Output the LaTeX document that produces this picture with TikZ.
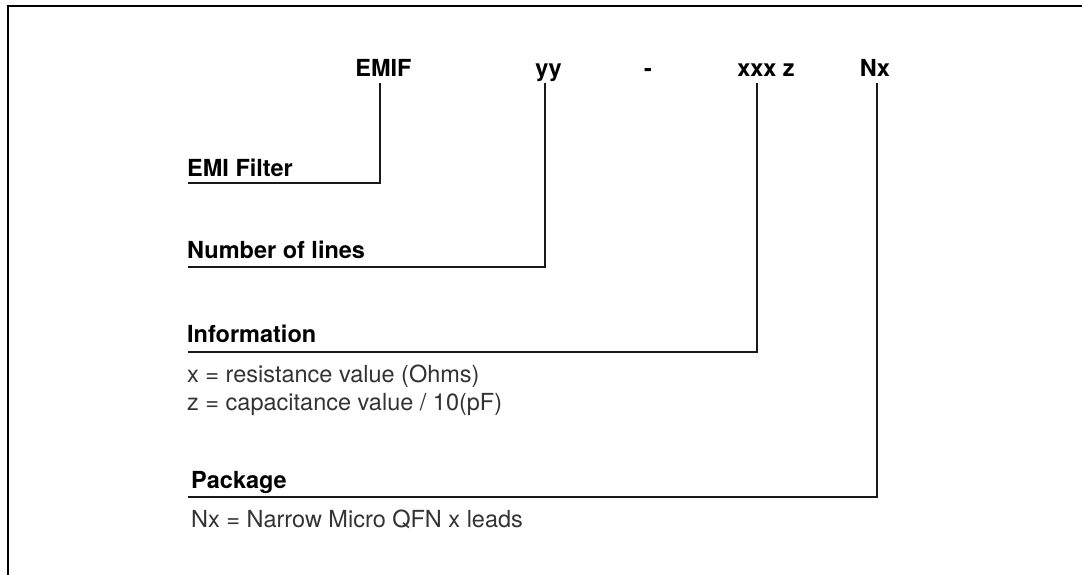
\documentclass[tikz,border=0pt]{standalone}
\usepackage{fontspec}
\setmainfont{TeX Gyre Heros}

\begin{document}
\begin{tikzpicture}[x=1pt,y=-1pt,
                    code/.style={font=\fontsize{23.5}{28}\selectfont\bfseries,inner sep=0pt,text depth=6pt,anchor=base},
                    field/.style={font=\fontsize{23.5}{28}\selectfont\bfseries,inner sep=0pt,anchor=base west},
                    note/.style={font=\fontsize{23.5}{28}\selectfont,text=black!80,inner sep=0pt,anchor=base west},
                    lead/.style={draw=black!90,line width=1.2pt}
]
\clip (0,0) rectangle (1082,575);
\draw[line width=2pt] (8,600) -- (8,6) -- (1100,6);

\node [code] at (383.5,77) (emif) {EMIF};
\node [code] at (548.5,77) (yy) {yy};
\node [code] at (648,77) (dash) {-};
\node [code] at (766,77) (xxxz) {xxx z};
\node [code] at (875,77) (nx) {Nx};

\node [field] at (187,176) (filter) {EMI Filter};
\node [field] at (187,258) (lines) {Number of lines};
\node [field] at (187,342) (info) {Information};
\node [note] at (187,382) (resist) {x = resistance value (Ohms)};
\node [note] at (187,410) (capac) {z = capacitance value / 10(pF)};
\node [field] at (191,488) (pkg) {Package};
\node [note] at (191,527) (leads) {Nx = Narrow Micro QFN x leads};

\coordinate (filterend) at (188,183);
\coordinate (linesend) at (188,267);
\coordinate (infoend) at (188,352);
\coordinate (pkgend) at (188,497);

\draw [lead] ([xshift=-3.5pt]emif.south) |- (filterend);
\draw [lead] ([xshift=-3.5pt]yy.south) |- (linesend);
\draw [lead] ([xshift=-9pt]xxxz.south) |- (infoend);
\draw [lead] ([xshift=2pt]nx.south) |- (pkgend);
%
\end{tikzpicture}
\end{document}
